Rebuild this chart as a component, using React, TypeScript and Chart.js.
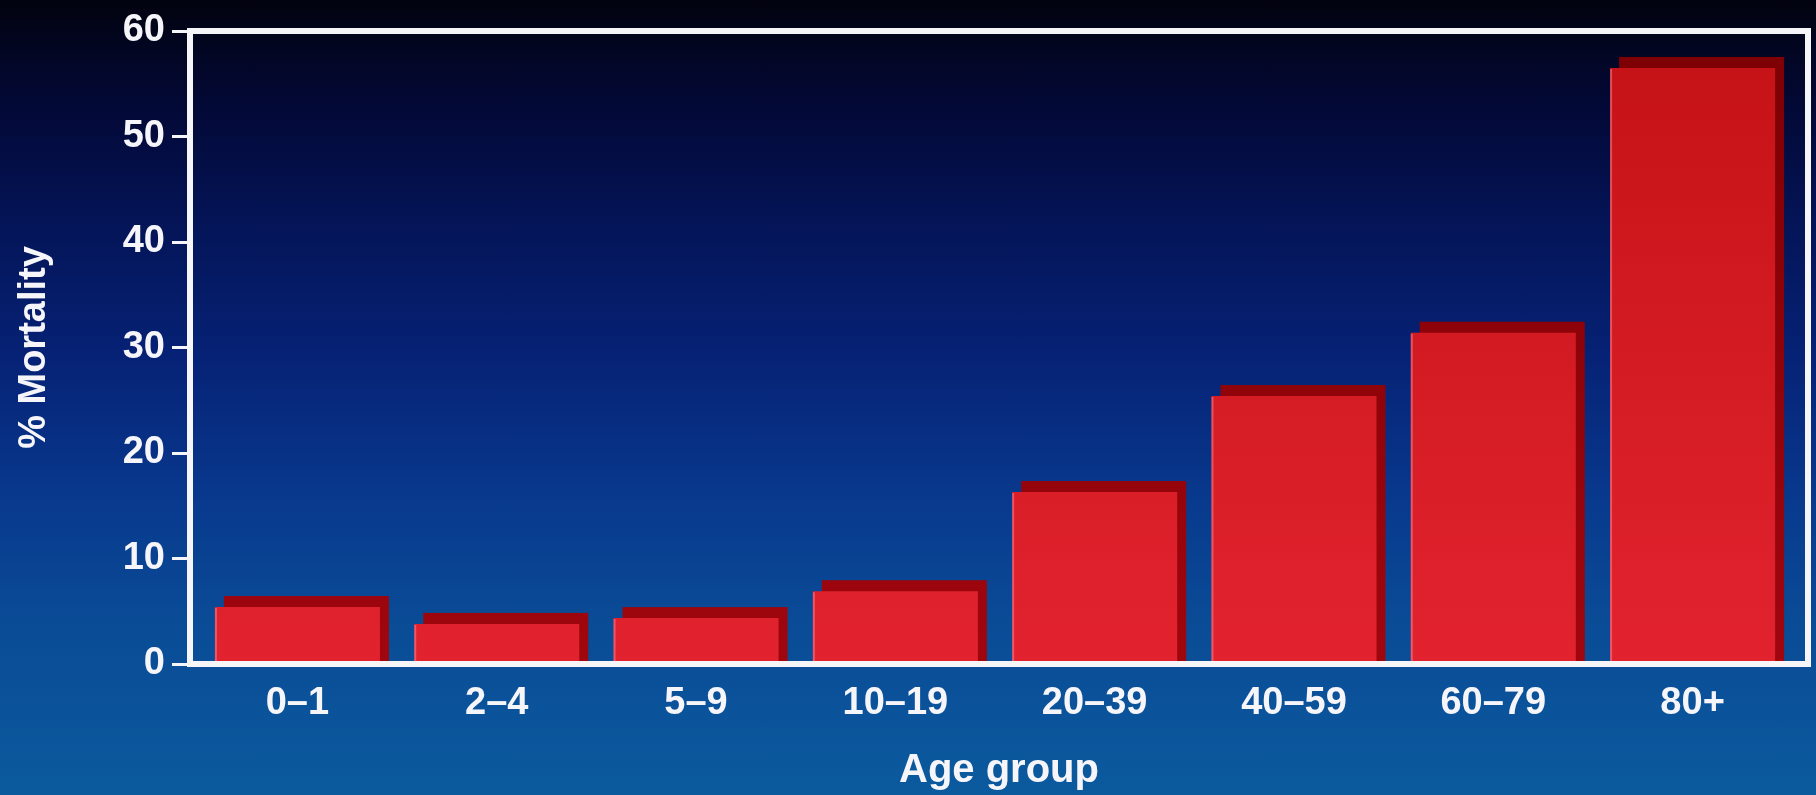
import React, { useEffect, useRef } from "react";
import { Chart, registerables } from "chart.js";

Chart.register(...registerables);

// Age groups along the x axis
const AGE_GROUPS = ["0\u20131", "2\u20134", "5\u20139", "10\u201319", "20\u201339", "40\u201359", "60\u201379", "80+"];
// Mortality (%) per age group
const MORTALITY = [5.4, 3.8, 4.35, 6.9, 16.3, 25.4, 31.4, 56.5];
// Y axis tick values
const Y_TICKS = [0, 10, 20, 30, 40, 50, 60];

const FONT = "'Liberation Sans', Arial, Helvetica, sans-serif";
const WHITE = "#f6f6fa";

// Depth offset of the back face of each bar (pixels: right, up)
const DEPTH_X = 9;
const DEPTH_Y = 11;

function barGradient(chart: Chart, top: string, bottom: string) {
  const area = chart.chartArea;
  if (!area) return bottom;
  const g = chart.ctx.createLinearGradient(0, area.top, 0, area.bottom);
  g.addColorStop(0, top);
  g.addColorStop(1, bottom);
  return g;
}

const depthPlugin = {
  id: "barDepth",
  beforeDatasetsDraw(chart: Chart) {
    const { ctx } = chart;
    const meta = chart.getDatasetMeta(0);
    ctx.save();
    ctx.fillStyle = barGradient(chart, "#7c0004", "#a0060e") as any;
    meta.data.forEach((el: any) => {
      const { x, y, base, width } = el.getProps(["x", "y", "base", "width"], true);
      const left = x - width / 2 + DEPTH_X;
      ctx.fillRect(left, y - DEPTH_Y, width, base - (y - DEPTH_Y));
    });
    ctx.restore();
  },
  afterDatasetsDraw(chart: Chart) {
    const { ctx, chartArea } = chart;
    const meta = chart.getDatasetMeta(0);
    ctx.save();
    // soft highlight along the left edge of each front face
    ctx.strokeStyle = "rgba(255,150,170,0.45)";
    ctx.lineWidth = 2;
    meta.data.forEach((el: any) => {
      const { x, y, base, width } = el.getProps(["x", "y", "base", "width"], true);
      const left = x - width / 2;
      ctx.beginPath();
      ctx.moveTo(left + 1, base);
      ctx.lineTo(left + 1, y + 1);
      ctx.stroke();
    });
    // white frame around the plot
    ctx.strokeStyle = WHITE;
    ctx.lineWidth = 6;
    ctx.strokeRect(chartArea.left, chartArea.top, chartArea.right - chartArea.left, chartArea.bottom - chartArea.top);
    ctx.restore();
  },
};

export default function App() {
  const canvasRef = useRef<HTMLCanvasElement | null>(null);

  useEffect(() => {
    const canvas = canvasRef.current;
    if (!canvas) return;
    const chart = new Chart(canvas, {
      type: "bar",
      data: {
        datasets: [
          {
            data: MORTALITY.map((v, i) => ({ x: i, y: v })),
            backgroundColor: (c: any) => barGradient(c.chart, "#c41216", "#e2232f"),
            borderWidth: 0,
            barPercentage: 0.828,
            categoryPercentage: 1,
          },
        ],
      },
      options: {
        animation: false,
        responsive: false,
        layout: { padding: { top: 31, right: 8, bottom: 0, left: 0 } },
        plugins: { legend: { display: false }, tooltip: { enabled: false } },
        scales: {
          x: {
            type: "linear",
            offset: false,
            min: -0.539,
            max: 7.579,
            afterFit: (s: any) => {
              s.height = 131;
            },
            grid: { display: false, drawTicks: false, offset: false },
            border: { display: false },
            ticks: {
              stepSize: 1,
              includeBounds: false,
              autoSkip: false,
              maxRotation: 0,
              padding: 17,
              color: WHITE,
              font: { family: FONT, size: 38, weight: "bold" },
              callback: (v: any) => (Number.isInteger(v) && AGE_GROUPS[v] !== undefined ? AGE_GROUPS[v] : ""),
            },
            title: {
              display: true,
              text: "Age group",
              color: WHITE,
              padding: { top: 0, bottom: 0 },
              font: { family: FONT, size: 40, weight: "bold" },
            },
          },
          y: {
            min: Y_TICKS[0],
            max: Y_TICKS[Y_TICKS.length - 1],
            afterFit: (s: any) => {
              s.width = 190;
            },
            afterBuildTicks: (s: any) => {
              s.ticks = Y_TICKS.map((v) => ({ value: v }));
            },
            grid: {
              drawOnChartArea: false,
              drawTicks: true,
              tickLength: 18,
              tickWidth: 3,
              tickColor: WHITE,
              color: WHITE,
            },
            border: { display: false },
            ticks: {
              padding: 7,
              color: WHITE,
              font: { family: FONT, size: 38, weight: "bold" },
            },
            title: {
              display: true,
              text: "% Mortality",
              color: WHITE,
              padding: { top: 12, bottom: 0 },
              font: { family: FONT, size: 38, weight: "bold" },
            },
          },
        },
      },
      plugins: [depthPlugin],
    });
    return () => chart.destroy();
  }, []);

  return (
    <div
      style={{
        position: "fixed",
        left: 0,
        top: 0,
        width: 1816,
        height: 795,
        background:
          "linear-gradient(180deg, #02030f 0%, #030833 12%, #041457 28%, #062276 45%, #08388c 62%, #0a4b96 78%, #0b5a9e 100%)",
      }}
    >
      <canvas ref={canvasRef} width={1816} height={795} style={{ display: "block" }} />
    </div>
  );
}
